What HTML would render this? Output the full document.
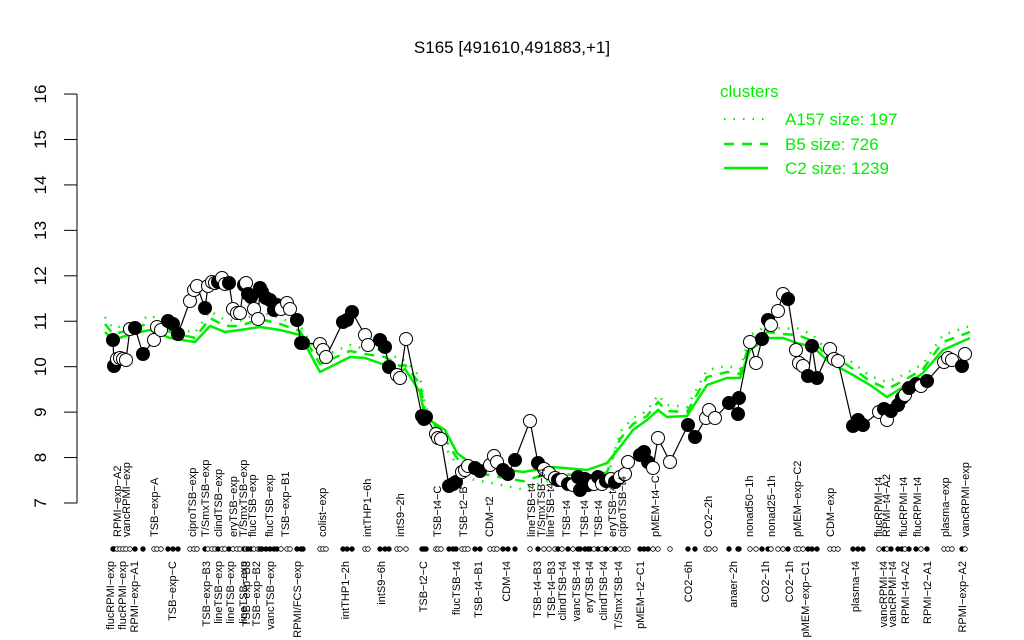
<!DOCTYPE html>
<html><head><meta charset="utf-8"><style>
html,body{margin:0;padding:0;background:#fff;}
svg{display:block;font-family:"Liberation Sans",sans-serif;}
</style></head><body>
<svg id="s" width="1024" height="640" xmlns="http://www.w3.org/2000/svg">
<rect width="1024" height="640" fill="#fff"/>
<text x="512" y="53" font-size="17" text-anchor="middle">S165 [491610,491883,+1]</text>
<g stroke="#000" fill="none">
<line x1="77" y1="94" x2="77" y2="503"/>
</g>
<g id="yt" font-size="17" text-anchor="middle"></g>
<g id="green"></g>
<g id="blk"></g>
<g id="lab" font-size="11"></g>
<g font-size="17" fill="#00ee00">
<text x="720" y="97">clusters</text>
<line x1="724" y1="119" x2="768" y2="119" stroke="#00ee00" stroke-width="2" stroke-dasharray="1.5,8"/>
<text x="785" y="125">A157 size: 197</text>
<line x1="724" y1="144" x2="768" y2="144" stroke="#00ee00" stroke-width="2.5" stroke-dasharray="10,8"/>
<text x="785" y="150">B5 size: 726</text>
<line x1="724" y1="168" x2="768" y2="168" stroke="#00ee00" stroke-width="2.5"/>
<text x="785" y="174">C2 size: 1239</text>
</g>
</svg>
<script>
var NS="http://www.w3.org/2000/svg";
function el(p,t,a,txt){var e=document.createElementNS(NS,t);for(var k in a)e.setAttribute(k,a[k]);if(txt)e.textContent=txt;p.appendChild(e);return e;}
var yt=document.getElementById('yt');
for(var v=7;v<=16;v++){var y=503-(v-7)*45.44;
el(yt,'line',{x1:64,y1:y,x2:77,y2:y,stroke:'#000'});
el(yt,'text',{transform:'translate(46,'+y+') rotate(-90)'},String(v));}
var P=[[113,340,1],[114,366,1],[117,359,0],[120,358,0],[123,359,0],[126,360,0],[130,329,0],[135,328,1],[143,354,1],[154,340,0],[157,327,0],[161,330,0],[168,321,1],[173,324,1],[178,334,1],[190,301,0],[194,290,0],[197,286,0],[205,308,1],[208,286,0],[212,282,0],[215,283,0],[218,282,1],[222,278,0],[225,284,0],[229,283,1],[233,309,0],[237,313,0],[240,313,0],[244,285,1],[246,283,0],[248,294,1],[251,297,1],[254,309,0],[258,319,0],[260,288,1],[262,292,1],[266,298,1],[270,300,1],[274,310,1],[277,305,1],[281,309,0],[287,303,0],[290,309,0],[297,320,1],[301,343,1],[303,343,1],[320,344,0],[323,350,0],[326,357,0],[343,322,1],[347,320,1],[352,312,1],[365,335,0],[368,345,0],[380,340,1],[385,347,1],[389,367,1],[397,375,0],[400,378,0],[406,339,0],[422,416,1],[424,419,1],[426,417,1],[436,434,0],[438,438,0],[441,439,0],[449,486,1],[453,484,1],[456,482,1],[462,472,0],[465,470,0],[468,466,0],[475,468,1],[480,471,1],[490,465,0],[494,456,0],[497,462,0],[503,470,1],[508,474,1],[515,460,1],[530,421,0],[538,463,1],[544,469,0],[549,473,0],[555,478,0],[558,480,1],[562,480,0],[568,484,1],[573,485,0],[578,477,1],[580,490,1],[585,479,1],[588,485,1],[590,481,1],[594,484,0],[598,477,1],[602,484,0],[606,481,1],[611,479,0],[615,482,1],[620,477,0],[625,474,0],[628,462,0],[640,455,1],[644,452,1],[648,462,1],[653,468,0],[658,438,0],[670,462,0],[688,425,1],[695,437,1],[706,418,0],[709,410,0],[715,418,0],[729,403,1],[738,414,1],[739,398,1],[750,342,0],[756,363,0],[762,339,1],[768,320,1],[771,325,0],[778,311,0],[783,294,0],[788,299,1],[796,350,0],[799,363,0],[803,366,0],[808,376,1],[812,346,1],[817,378,1],[830,349,0],[834,359,0],[838,361,0],[853,426,1],[858,420,1],[863,425,1],[879,412,0],[884,409,1],[887,420,0],[891,411,1],[898,405,1],[902,398,1],[905,395,0],[909,388,1],[916,384,1],[921,386,0],[927,381,1],[944,362,0],[948,358,0],[952,360,0],[962,366,1],[965,354,0]];
var S=[[105,332],[113,340],[135,333],[150,330],[170,338],[195,342],[210,326],[225,332],[240,330],[260,327],[280,330],[300,335],[320,372],[350,357],[365,358],[385,365],[400,372],[405,369],[420,392],[425,417],[445,430],[457,453],[473,465],[523,472],[553,467],[587,470],[607,463],[620,447],[633,430],[647,420],[658,410],[667,417],[687,416],[707,385],[727,378],[740,378],[750,350],[767,338],[783,338],[797,343],[813,347],[830,363],[840,368],[853,375],[870,385],[887,397],[903,387],[923,373],[943,350],[970,338]];
var g=document.getElementById('green');
function pts(off,amp,low){return S.map(function(p,i){var o=off;if(low&&p[0]>440&&p[0]<620)o=-o*1.2;return p[0]+','+(p[1]+o+(i%3-1)*amp);}).join(' ');}
el(g,'polyline',{points:pts(-12,3,true),fill:'none',stroke:'#00ee00','stroke-width':2.5,'stroke-dasharray':'1.5,8'});
el(g,'polyline',{points:pts(-6,2,true),fill:'none',stroke:'#00ee00','stroke-width':2.5,'stroke-dasharray':'10,8'});
el(g,'polyline',{points:pts(0,0),fill:'none',stroke:'#00ee00','stroke-width':2.5});
var b=document.getElementById('blk');
el(b,'polyline',{points:P.map(function(p){return p[0]+','+p[1];}).join(' '),fill:'none',stroke:'#000','stroke-width':1.2});
P.forEach(function(p){el(b,'circle',{cx:p[0],cy:p[1],r:6.5,fill:p[2]?'#000':'#fff',stroke:'#000','stroke-width':1});
el(b,'circle',{cx:p[0],cy:549,r:2.3,fill:p[2]?'#000':'#fff',stroke:'#000','stroke-width':0.8});});
var T=[[117,'RPMI−exp−A2'],[126,'vancRPMI−exp'],[154,'TSB−exp−A'],[192,'ciproTSB−exp'],[205,'T/SmxTSB−exp'],[218,'clindTSB−exp'],[233,'eryTSB−exp'],[243,'T/SmxTSB−exp'],[252,'flucTSB−exp'],[269,'flucTSB−exp'],[285,'TSB−exp−B1'],[322,'colist−exp'],[367,'intTHP1−6h'],[400,'intS9−2h'],[437,'TSB−t4−C'],[463,'TSB−t2−B'],[489,'CDM−t2'],[531,'lineTSB−t4'],[541,'T/SmxTSB−t4'],[550,'lineTSB−t4'],[566,'TSB−t4'],[584,'TSB−t4'],[598,'TSB−t4'],[612,'eryTSB−t4'],[622,'ciproTSB−t4'],[655,'pMEM−t4−C'],[708,'CO2−2h'],[749,'nonad50−1h'],[771,'nonad25−1h'],[797,'pMEM−exp−C2'],[830,'CDM−exp'],[878,'flucRPMI−t4'],[886,'RPMI−t4−A2'],[903,'flucRPMI−t4'],[917,'flucRPMI−t4'],[945,'plasma−exp'],[965,'vancRPMI−exp']];
var B=[[110,'flucRPMI−exp'],[122,'flucRPMI−exp'],[134,'RPMI−exp−A1'],[172,'TSB−exp−C'],[206,'TSB−exp−B3'],[218,'lineTSB−exp'],[230,'lineTSB−exp'],[243,'lineTSB−exp'],[246,'TSB−exp−B3'],[256,'TSB−exp−B2'],[270,'vancTSB−exp'],[297,'RPMI/FCS−exp'],[345,'intTHP1−2h'],[381,'intS9−6h'],[423,'TSB−t2−C'],[456,'flucTSB−t4'],[478,'TSB−t4−B1'],[506,'CDM−t4'],[537,'TSB−t4−B3'],[551,'TSB−t4−B3'],[562,'clindTSB−t4'],[576,'vancTSB−t4'],[589,'eryTSB−t4'],[603,'clindTSB−t4'],[618,'T/SmxTSB−t4'],[640,'pMEM−t2−C1'],[688,'CO2−6h'],[733,'anaer−2h'],[765,'CO2−1h'],[789,'CO2−1h'],[805,'pMEM−exp−C1'],[855,'plasma−t4'],[883,'vancRPMI−t4'],[892,'vancRPMI−t4'],[905,'RPMI−t4−A2'],[927,'RPMI−t2−A1'],[962,'RPMI−exp−A2']];
var L=document.getElementById('lab');
T.forEach(function(t){el(L,'text',{transform:'translate('+(t[0]+4)+',537) rotate(-90)'},t[1]);});
B.forEach(function(t){el(L,'text',{transform:'translate('+(t[0]+4)+',561) rotate(-90)','text-anchor':'end'},t[1]);});
</script>
</body></html>
